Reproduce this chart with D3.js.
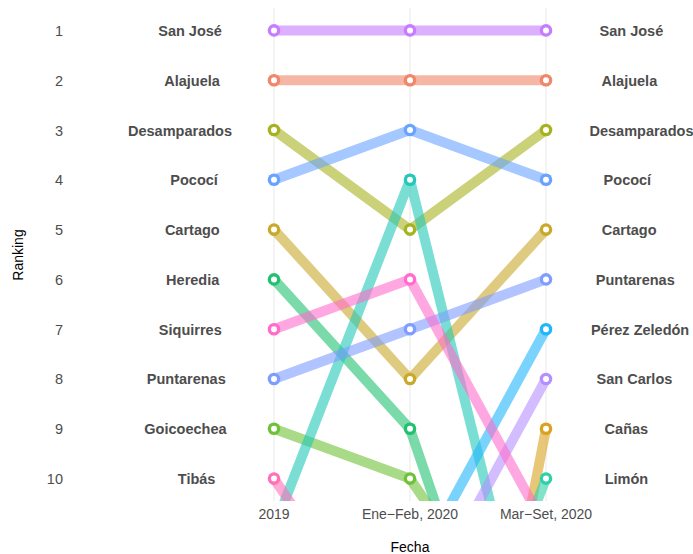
<!DOCTYPE html>
<html>
<head>
<meta charset="utf-8">
<script src="https://cdn.jsdelivr.net/npm/d3@7"></script>
<style>
  body { margin: 0; background: #fff; }
  text { font-family: "Liberation Sans", Arial, Helvetica, sans-serif; }
</style>
</head>
<body>
<svg id="chart"></svg>
<script>
const width = 693;
const height = 554;

// periodos (eje x)
const fechas = ['2019', 'Ene\u2212Feb, 2020', 'Mar\u2212Set, 2020'];

// cantones y su ranking en cada periodo (valores > 10 quedan fuera del panel)
const cantones = ['Alajuela', 'Cañas', 'Cartago', 'Desamparados', 'Goicoechea', 'Heredia',
  'Limón', 'Matina', 'Pérez Zeledón', 'Pococí', 'Puntarenas', 'San Carlos', 'San José',
  'Siquirres', 'Tibás'];
const rank2019   = [2, 20, 5, 3, 9, 6, 13, 11, 14, 4, 8, 12, 1, 7, 10];
const rankEneFeb = [2, 23, 8, 5, 10, 9, 17, 4, 12, 3, 7, 13, 1, 6, 14];
const rankMarSet = [2, 9, 5, 3, 14, 17, 10, 15, 7, 4, 6, 8, 1, 11, 12];
const colores = ['#f0866a', '#d9a21e', '#c9a82a', '#a6b31f', '#6fc237', '#22c171',
  '#2fd0a9', '#22c8b9', '#22b5fb', '#68a4ff', '#7f9dff', '#b58fff', '#c77cff',
  '#ff6ccb', '#ff70b8'];
const yTicks = [1, 2, 3, 4, 5, 6, 7, 8, 9, 10];

const datos = cantones.map((c, i) => ({
  name: c,
  color: colores[i],
  values: [rank2019[i], rankEneFeb[i], rankMarSet[i]].map((r, j) => ({ fecha: fechas[j], rank: r }))
}));

const panel = { left: 66, right: 693, top: 8, bottom: 501 };

const svg = d3.select('#chart')
  .attr('width', width)
  .attr('height', height);

const x = d3.scalePoint()
  .domain(fechas)
  .range([274, 546]);

// como ggplot: límites 1-10 con expansión de 5%
const y = d3.scaleLinear()
  .domain([0.55, 10.45])
  .range([panel.top, panel.bottom]);

svg.append('defs').append('clipPath').attr('id', 'clip')
  .append('rect')
  .attr('x', panel.left).attr('y', panel.top)
  .attr('width', panel.right - panel.left).attr('height', panel.bottom - panel.top);

// rejilla vertical
svg.append('g')
  .selectAll('line')
  .data(fechas)
  .enter().append('line')
  .attr('x1', d => x(d)).attr('x2', d => x(d))
  .attr('y1', panel.top).attr('y2', panel.bottom)
  .attr('stroke', '#ebebeb')
  .attr('stroke-width', 1.1);

const plot = svg.append('g').attr('clip-path', 'url(#clip)');

const line = d3.line()
  .x(d => x(d.fecha))
  .y(d => y(d.rank));

plot.selectAll('.linea')
  .data(datos)
  .enter().append('path')
  .attr('class', 'linea')
  .attr('d', d => line(d.values))
  .attr('fill', 'none')
  .attr('stroke', d => d.color)
  .attr('stroke-opacity', 0.6)
  .attr('stroke-width', 10)
  .attr('stroke-linejoin', 'round');

const puntos = datos.flatMap(d => d.values.map(v => ({ ...v, color: d.color })));

plot.selectAll('.punto')
  .data(puntos)
  .enter().append('circle')
  .attr('class', 'punto')
  .attr('cx', d => x(d.fecha))
  .attr('cy', d => y(d.rank))
  .attr('r', 6.3)
  .attr('fill', d => d.color);

plot.selectAll('.centro')
  .data(puntos)
  .enter().append('circle')
  .attr('class', 'centro')
  .attr('cx', d => x(d.fecha))
  .attr('cy', d => y(d.rank))
  .attr('r', 3)
  .attr('fill', '#fff');

// etiquetas de nombres a la izquierda (2019) y derecha (Mar-Set)
function etiquetas(col, anchor, h) {
  const sel = datos.filter(d => d.values[col].rank <= 10);
  svg.append('g').selectAll('text')
    .data(sel)
    .enter().append('text')
    .attr('y', d => y(d.values[col].rank) + 5.5)
    .attr('font-size', 14.5)
    .attr('font-weight', 'bold')
    .attr('fill', '#4d4d4d')
    .text(d => d.name)
    .attr('x', function () { return anchor - h * this.getComputedTextLength(); });
}
etiquetas(0, 206, 0.75);
etiquetas(2, 615.5, 0.25);

// eje y
svg.append('g')
  .selectAll('text')
  .data(yTicks)
  .enter().append('text')
  .attr('x', 63)
  .attr('y', d => y(d) + 5.5)
  .attr('text-anchor', 'end')
  .attr('font-size', 14.5)
  .attr('fill', '#4d4d4d')
  .text(d => d);

// eje x
svg.append('g')
  .selectAll('text')
  .data(fechas)
  .enter().append('text')
  .attr('x', d => x(d))
  .attr('y', 519)
  .attr('text-anchor', 'middle')
  .attr('font-size', 14)
  .attr('fill', '#4d4d4d')
  .text(d => d);

svg.append('text')
  .attr('x', 410)
  .attr('y', 552)
  .attr('text-anchor', 'middle')
  .attr('font-size', 14)
  .attr('fill', '#000')
  .text('Fecha');

svg.append('text')
  .attr('transform', 'translate(23,255) rotate(-90)')
  .attr('text-anchor', 'middle')
  .attr('font-size', 14)
  .attr('fill', '#000')
  .text('Ranking');
</script>
</body>
</html>
